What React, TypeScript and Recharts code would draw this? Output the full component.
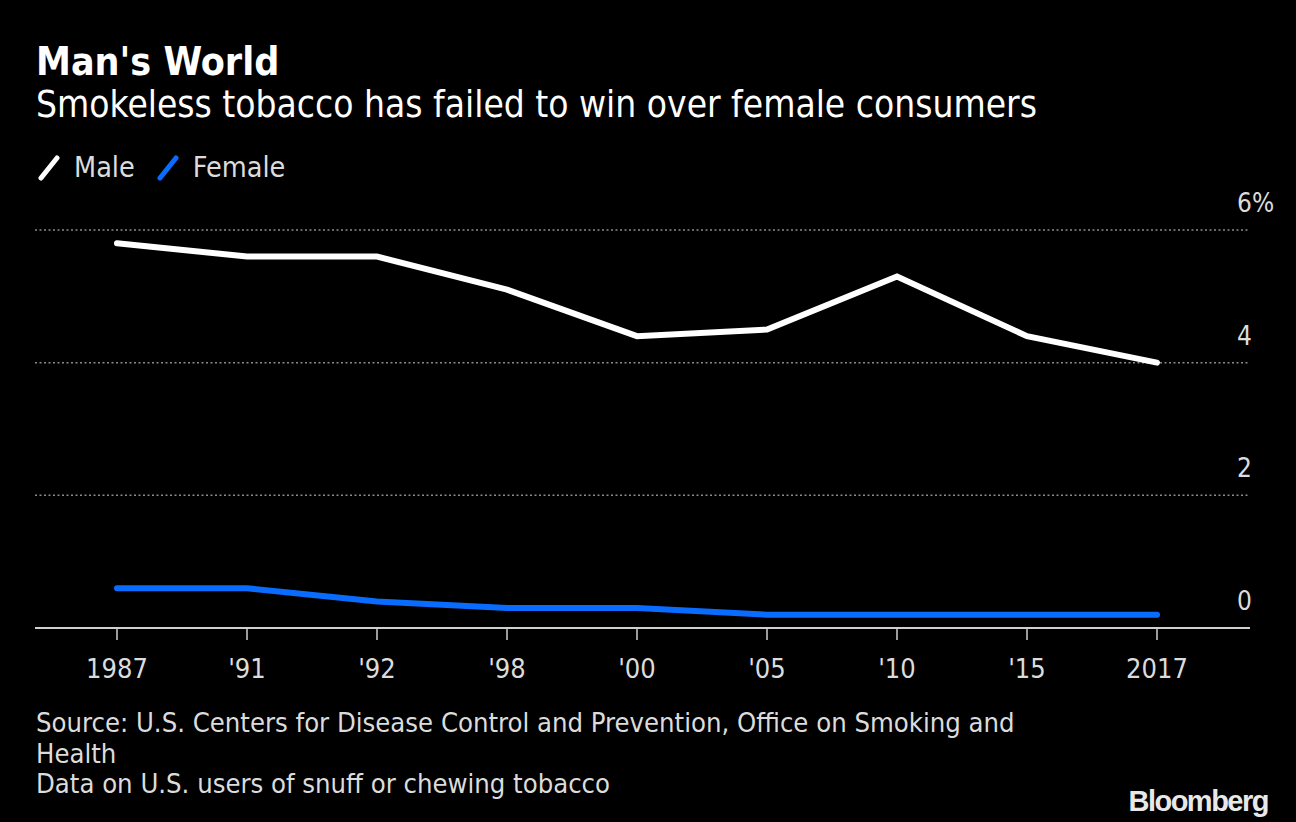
import React from "react";
import { LineChart, Line, XAxis, YAxis, CartesianGrid } from "recharts";

// Survey years and smokeless tobacco use (% of U.S. adults)
const years = ["1987", "'91", "'92", "'98", "'00", "'05", "'10", "'15", "2017"];
const maleValues = [5.8, 5.6, 5.6, 5.1, 4.4, 4.5, 5.3, 4.4, 4.0];
const femaleValues = [0.6, 0.6, 0.4, 0.3, 0.3, 0.2, 0.2, 0.2, 0.2];
const yTicks = [0, 2, 4, 6];

const data = years.map((year, i) => ({
  year,
  male: maleValues[i],
  female: femaleValues[i],
}));

const FONT = "'DejaVu Sans Condensed', 'DejaVu Sans', sans-serif";
const TEXT = "#dcdcdc";
const BLUE = "#0a6cff";

const YTick = (props: any) => {
  const { y, payload } = props;
  const label = payload.value === 6 ? "6%" : String(payload.value);
  return (
    <text x={1237} y={y - 18} fill={TEXT} fontSize={26} fontFamily={FONT}>
      {label}
    </text>
  );
};

const XTick = (props: any) => {
  const { x, y, payload } = props;
  return (
    <text x={x} y={y + 36} fill={TEXT} fontSize={27} fontFamily={FONT} textAnchor="middle">
      {payload.value}
    </text>
  );
};

const Slash = ({ color }: { color: string }) => (
  <svg width={22} height={26} style={{ display: "inline-block", verticalAlign: "middle" }}>
    <line x1={3} y1={23} x2={19} y2={3} stroke={color} strokeWidth={5} strokeLinecap="round" />
  </svg>
);

export default function App() {
  return (
    <div
      style={{
        position: "fixed",
        left: 0,
        top: 0,
        width: 1296,
        height: 822,
        background: "#000",
        fontFamily: FONT,
        color: TEXT,
        overflow: "hidden",
      }}
    >
      <div style={{ position: "absolute", left: 36, top: 39, fontSize: 39, fontWeight: "bold", color: "#fff", lineHeight: "46px" }}>
        Man's World
      </div>
      <div style={{ position: "absolute", left: 36, top: 83, fontSize: 36.8, color: "#fff", lineHeight: "44px" }}>
        Smokeless tobacco has failed to win over female consumers
      </div>
      <div style={{ position: "absolute", left: 38, top: 149, fontSize: 28.5, lineHeight: "38px", display: "flex", alignItems: "center" }}>
        <Slash color="#fff" />
        <span style={{ marginLeft: 14, marginRight: 22 }}>Male</span>
        <Slash color={BLUE} />
        <span style={{ marginLeft: 14 }}>Female</span>
      </div>

      <div style={{ position: "absolute", left: 0, top: 0 }}>
        <LineChart
          width={1296}
          height={822}
          data={data}
          margin={{ top: 230, right: 0, bottom: 134, left: 35 }}
        >
          <CartesianGrid
            vertical={false}
            stroke="#8a8a8a"
            strokeDasharray="2 2.5"
            strokeWidth={1.5}
          />
          <XAxis
            dataKey="year"
            height={60}
            padding={{ left: 82, right: 93 }}
            axisLine={{ stroke: "#cfcfcf", strokeWidth: 2 }}
            tickLine={{ stroke: "#cfcfcf", strokeWidth: 1.5 }}
            tickSize={12}
            tick={<XTick />}
            interval={0}
          />
          <YAxis
            orientation="right"
            domain={[0, 6]}
            ticks={yTicks}
            width={46}
            axisLine={false}
            tickLine={false}
            tick={<YTick />}
          />
          <Line
            dataKey="male"
            stroke="#ffffff"
            strokeWidth={6}
            strokeLinecap="round"
            dot={false}
            activeDot={false}
            isAnimationActive={false}
          />
          <Line
            dataKey="female"
            stroke={BLUE}
            strokeWidth={6}
            strokeLinecap="round"
            dot={false}
            activeDot={false}
            isAnimationActive={false}
          />
        </LineChart>
      </div>

      <div style={{ position: "absolute", left: 36, top: 708, fontSize: 27.2, lineHeight: "30.5px" }}>
        Source: U.S. Centers for Disease Control and Prevention, Office on Smoking and
        <br />
        Health
        <br />
        Data on U.S. users of snuff or chewing tobacco
      </div>
      <div
        style={{
          position: "absolute",
          right: 28,
          top: 785,
          fontSize: 29,
          fontWeight: "bold",
          letterSpacing: -1.5,
          color: "#e8e8e8",
          fontFamily: "'Liberation Sans Narrow', 'Liberation Sans', sans-serif",
        }}
      >
        Bloomberg
      </div>
    </div>
  );
}
